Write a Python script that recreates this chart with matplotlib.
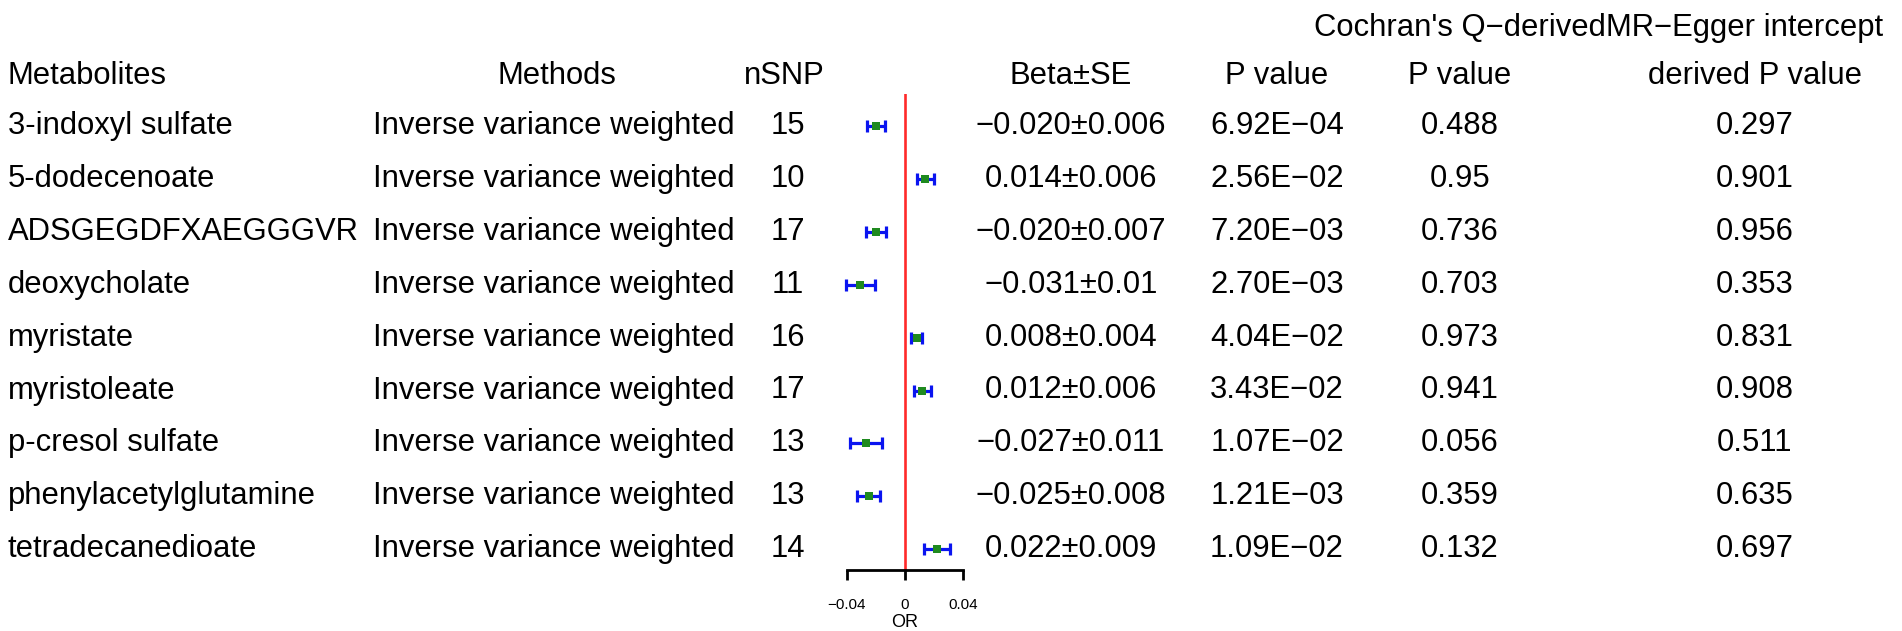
import matplotlib
matplotlib.use("Agg")
import matplotlib.pyplot as plt

plt.rcParams['font.family'] = ['Liberation Sans', 'DejaVu Sans']

metabolites = ["3-indoxyl sulfate", "5-dodecenoate", "ADSGEGDFXAEGGGVR", "deoxycholate",
               "myristate", "myristoleate", "p-cresol sulfate", "phenylacetylglutamine",
               "tetradecanedioate"]
methods = ["Inverse variance weighted"] * 9
nsnp = [15, 10, 17, 11, 16, 17, 13, 13, 14]
beta = [-0.020, 0.014, -0.020, -0.031, 0.008, 0.012, -0.027, -0.025, 0.022]
se = [0.006, 0.006, 0.007, 0.01, 0.004, 0.006, 0.011, 0.008, 0.009]
beta_se = ["\u22120.020\u00b10.006", "0.014\u00b10.006", "\u22120.020\u00b10.007", "\u22120.031\u00b10.01",
           "0.008\u00b10.004", "0.012\u00b10.006", "\u22120.027\u00b10.011", "\u22120.025\u00b10.008",
           "0.022\u00b10.009"]
pval = ["6.92E\u221204", "2.56E\u221202", "7.20E\u221203", "2.70E\u221203", "4.04E\u221202",
        "3.43E\u221202", "1.07E\u221202", "1.21E\u221203", "1.09E\u221202"]
q_pval = ["0.488", "0.95", "0.736", "0.703", "0.973", "0.941", "0.056", "0.359", "0.132"]
egger_pval = ["0.297", "0.901", "0.956", "0.353", "0.831", "0.908", "0.511", "0.635", "0.697"]
xticks = [-0.04, 0, 0.04]
xtick_labels = ["\u22120.04", "0", "0.04"]

W, H = 1902, 631
fig = plt.figure(figsize=(W / 100, H / 100), dpi=100)
bg = fig.add_axes([0, 0, 1, 1])
bg.set_xlim(0, W)
bg.set_ylim(H, 0)
bg.axis('off')

fs = 22.3
row_y0 = 126
row_dy = 52.9

# column centres / anchors (pixels)
x_met, x_meth, x_nsnp, x_beta, x_p, x_q, x_eg = 8, 373, 788, 1071, 1277, 1460, 1755

# Headers
bg.text(x_q, 28, "Cochran's Q\u2212derived", ha='center', va='center', fontsize=fs)
bg.text(1745, 28, "MR\u2212Egger intercept", ha='center', va='center', fontsize=fs)
hy = 76
bg.text(x_met, hy, "Metabolites", ha='left', va='center', fontsize=fs)
bg.text(557, hy, "Methods", ha='center', va='center', fontsize=fs)
bg.text(784, hy, "nSNP", ha='center', va='center', fontsize=fs)
bg.text(x_beta, hy, "Beta\u00b1SE", ha='center', va='center', fontsize=fs)
bg.text(x_p, hy, "P value", ha='center', va='center', fontsize=fs)
bg.text(x_q, hy, "P value", ha='center', va='center', fontsize=fs)
bg.text(x_eg, hy, "derived P value", ha='center', va='center', fontsize=fs)

for i in range(len(metabolites)):
    y = row_y0 + row_dy * i
    bg.text(x_met, y, metabolites[i], ha='left', va='center', fontsize=fs)
    bg.text(x_meth, y, methods[i], ha='left', va='center', fontsize=fs)
    bg.text(x_nsnp, y, str(nsnp[i]), ha='center', va='center', fontsize=fs)
    bg.text(x_beta, y, beta_se[i], ha='center', va='center', fontsize=fs)
    bg.text(x_p, y, pval[i], ha='center', va='center', fontsize=fs)
    bg.text(x_q, y, q_pval[i], ha='center', va='center', fontsize=fs)
    bg.text(x_eg, y, egger_pval[i], ha='center', va='center', fontsize=fs)

# Forest plot axes (pixel placement)
x0_px, zero_px, per = 825, 905, 58 / 0.04
top_px, bot_px = 94, 570
ax_w = 160
ax = fig.add_axes([x0_px / W, 1 - bot_px / H, ax_w / W, (bot_px - top_px) / H])
ax.set_xlim(-(zero_px - x0_px) / per, (x0_px + ax_w - zero_px) / per)
n = len(metabolites)
top_off = (row_y0 - top_px) / row_dy
bot_off = (bot_px - (row_y0 + row_dy * (n - 1))) / row_dy
ax.set_ylim(n - 1 + bot_off, -top_off)
ax.patch.set_alpha(0)
for s in ['top', 'right', 'left']:
    ax.spines[s].set_visible(False)
ax.spines['bottom'].set_bounds(-0.04, 0.04)
ax.spines['bottom'].set_linewidth(2.0)
ax.set_yticks([])
ax.set_xticks(xticks)
ax.set_xticklabels(xtick_labels, fontsize=11)
ax.tick_params(axis='x', direction='out', length=7.5, width=2.0, pad=13)
ax.set_xlabel("OR", fontsize=13, labelpad=1)
ax.axvline(0, color='#FF2A2A', lw=1.9, zorder=1)
ax.errorbar(beta, list(range(n)), xerr=se, fmt='none', ecolor='#0A14F0', elinewidth=2.3,
            capsize=4.5, capthick=2.3, zorder=2)
ax.scatter(beta, list(range(n)), marker='s', s=38, color='#1F8A1F', zorder=3, linewidths=0)

fig.savefig("out.png", dpi=100)
